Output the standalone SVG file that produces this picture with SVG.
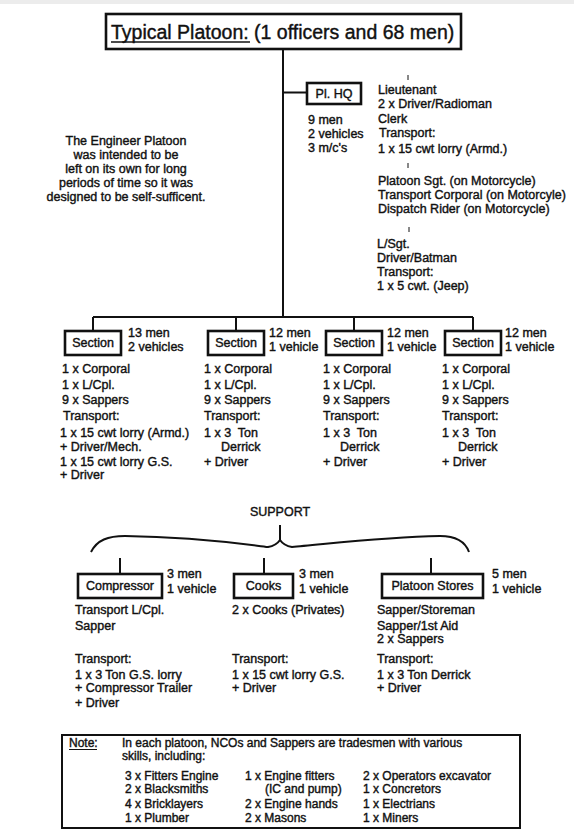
<svg xmlns="http://www.w3.org/2000/svg" width="574" height="836" viewBox="0 0 574 836">
<style>
.t{font-family:"Liberation Sans",Arial,sans-serif;font-size:12.5px;fill:#111;stroke:#111;stroke-width:0.4}
.n{font-size:12px}
.c{text-anchor:middle}
.box{fill:#fff;stroke:#111;stroke-width:2.6}
.ln{stroke:#111;stroke-width:2;fill:none}
.tick{stroke:#111;stroke-width:1;fill:none}
</style>
<rect x="0" y="0" width="574" height="836" fill="#fff"/>
<rect x="0" y="0" width="574" height="4" fill="#ececec"/>
<g id="connectors">
<path class="ln" d="M283,49 V317 M283,92.5 H307 M93,317 H473 M93,317 V331 M236,317 V331 M354,317 V331 M473,317 V331"/>
<path class="ln" d="M280,525 V540 M120,558 V574 M264,558 V574 M431,558 V574"/>
<path class="ln" stroke-width="1.8" d="M91,552 C97,540 108,536 125,536 C200,537 250,545 268,547 C274,546 278,543 280,540 C282,543 286,546 292,547 C320,545 380,537 440,536 C455,536 465,541 469,552"/>
<path class="tick" d="M408,75 V80 M408,163 V168 M409,227 V232"/>
</g>
<g id="title">
<rect class="box" x="106" y="14" width="355" height="35"/>
<text class="t" x="111" y="39" style="font-size:19.5px">Typical Platoon: (1 officers and 68 men)</text>
<line x1="111" y1="42" x2="250" y2="42" stroke="#111" stroke-width="1.3"/>
</g>
<g id="plhq">
<rect class="box" x="307" y="83" width="54" height="21"/>
<text class="t c" x="334" y="98">Pl. HQ</text>
<text class="t" x="308" y="124">9 men</text>
<text class="t" x="308" y="138">2 vehicles</text>
<text class="t" x="308" y="152">3 m/c's</text>
<text class="t" x="378" y="94">Lieutenant</text>
<text class="t" x="378" y="108">2 x Driver/Radioman</text>
<text class="t" x="378" y="123">Clerk</text>
<text class="t" x="379" y="137">Transport:</text>
<text class="t" x="378" y="153">1 x 15 cwt lorry (Armd.)</text>
<text class="t" x="378" y="185">Platoon Sgt. (on Motorcycle)</text>
<text class="t" x="378" y="199">Transport Corporal (on Motorcyle)</text>
<text class="t" x="378" y="213">Dispatch Rider (on Motorcycle)</text>
<text class="t" x="377" y="248">L/Sgt.</text>
<text class="t" x="377" y="262">Driver/Batman</text>
<text class="t" x="377" y="276">Transport:</text>
<text class="t" x="377" y="290">1 x 5 cwt. (Jeep)</text>
</g>
<g id="intro">
<text class="t c" x="126" y="145">The Engineer Platoon</text>
<text class="t c" x="126" y="159">was intended to be</text>
<text class="t c" x="126" y="173">left on its own for long</text>
<text class="t c" x="126" y="187">periods of time so it was</text>
<text class="t c" x="126" y="201">designed to be self-sufficent.</text>
</g>
<g id="section1">
<rect class="box" x="65" y="331" width="56" height="24"/>
<text class="t c" x="93" y="347">Section</text>
<text class="t" x="128" y="337">13 men</text>
<text class="t" x="128" y="351">2 vehicles</text>
<text class="t" x="62" y="373">1 x Corporal</text>
<text class="t" x="62" y="389">1 x L/Cpl.</text>
<text class="t" x="62" y="404">9 x Sappers</text>
<text class="t" x="63" y="420">Transport:</text>
<text class="t" x="60" y="437">1 x 15 cwt lorry (Armd.)</text>
<text class="t" x="60" y="451">+ Driver/Mech.</text>
<text class="t" x="60" y="466">1 x 15 cwt lorry G.S.</text>
<text class="t" x="60" y="479">+ Driver</text>
</g>
<g id="section2">
<rect class="box" x="208" y="331" width="56" height="24"/>
<text class="t c" x="236" y="347">Section</text>
<text class="t" x="269" y="337">12 men</text>
<text class="t" x="269" y="351">1 vehicle</text>
<text class="t" x="204" y="373">1 x Corporal</text>
<text class="t" x="204" y="389">1 x L/Cpl.</text>
<text class="t" x="204" y="404">9 x Sappers</text>
<text class="t" x="204" y="420">Transport:</text>
<text class="t" x="204" y="437" xml:space="preserve">1 x 3  Ton</text>
<text class="t" x="221" y="451">Derrick</text>
<text class="t" x="204" y="466">+ Driver</text>
</g>
<g id="section3">
<rect class="box" x="326" y="331" width="56" height="24"/>
<text class="t c" x="354" y="347">Section</text>
<text class="t" x="387" y="337">12 men</text>
<text class="t" x="387" y="351">1 vehicle</text>
<text class="t" x="323" y="373">1 x Corporal</text>
<text class="t" x="323" y="389">1 x L/Cpl.</text>
<text class="t" x="323" y="404">9 x Sappers</text>
<text class="t" x="323" y="420">Transport:</text>
<text class="t" x="323" y="437" xml:space="preserve">1 x 3  Ton</text>
<text class="t" x="340" y="451">Derrick</text>
<text class="t" x="323" y="466">+ Driver</text>
</g>
<g id="section4">
<rect class="box" x="445" y="331" width="56" height="24"/>
<text class="t c" x="473" y="347">Section</text>
<text class="t" x="505" y="337">12 men</text>
<text class="t" x="505" y="351">1 vehicle</text>
<text class="t" x="442" y="373">1 x Corporal</text>
<text class="t" x="442" y="389">1 x L/Cpl.</text>
<text class="t" x="442" y="404">9 x Sappers</text>
<text class="t" x="442" y="420">Transport:</text>
<text class="t" x="442" y="437" xml:space="preserve">1 x 3  Ton</text>
<text class="t" x="458" y="451">Derrick</text>
<text class="t" x="442" y="466">+ Driver</text>
</g>
<g id="support">
<text class="t c" x="280" y="516">SUPPORT</text>
</g>
<g id="compressor">
<rect class="box" x="78" y="574" width="84" height="24"/>
<text class="t c" x="120" y="590">Compressor</text>
<text class="t" x="167" y="578">3 men</text>
<text class="t" x="167" y="593">1 vehicle</text>
<text class="t" x="75" y="614">Transport L/Cpl.</text>
<text class="t" x="75" y="630">Sapper</text>
<text class="t" x="75" y="663">Transport:</text>
<text class="t" x="75" y="679">1 x 3 Ton G.S. lorry</text>
<text class="t" x="75" y="692">+ Compressor Trailer</text>
<text class="t" x="75" y="707">+ Driver</text>
</g>
<g id="cooks">
<rect class="box" x="234" y="574" width="59" height="24"/>
<text class="t c" x="263.5" y="590">Cooks</text>
<text class="t" x="299" y="578">3 men</text>
<text class="t" x="299" y="593">1 vehicle</text>
<text class="t" x="232" y="614">2 x Cooks (Privates)</text>
<text class="t" x="232" y="663">Transport:</text>
<text class="t" x="232" y="679">1 x 15 cwt lorry G.S.</text>
<text class="t" x="232" y="692">+ Driver</text>
</g>
<g id="stores">
<rect class="box" x="382" y="574" width="101" height="24"/>
<text class="t c" x="432.5" y="590">Platoon Stores</text>
<text class="t" x="492" y="578">5 men</text>
<text class="t" x="492" y="593">1 vehicle</text>
<text class="t" x="377" y="614">Sapper/Storeman</text>
<text class="t" x="377" y="630">Sapper/1st Aid</text>
<text class="t" x="377" y="643">2 x Sappers</text>
<text class="t" x="377" y="663">Transport:</text>
<text class="t" x="377" y="679">1 x 3 Ton Derrick</text>
<text class="t" x="377" y="692">+ Driver</text>
</g>
<g id="note">
<rect x="62" y="735" width="458" height="93" fill="#fff" stroke="#111" stroke-width="2"/>
<text class="t n" x="69" y="747">Note:</text>
<line x1="69" y1="749.5" x2="97" y2="749.5" stroke="#111" stroke-width="1"/>
<text class="t n" x="122" y="747">In each platoon, NCOs and Sappers are tradesmen with various</text>
<text class="t n" x="122" y="760">skills, including:</text>
<text class="t n" x="125" y="780">3 x Fitters Engine</text>
<text class="t n" x="125" y="793">2 x Blacksmiths</text>
<text class="t n" x="125" y="808">4 x Bricklayers</text>
<text class="t n" x="125" y="822">1 x Plumber</text>
<text class="t n" x="245" y="780">1 x Engine fitters</text>
<text class="t n" x="265" y="793">(IC and pump)</text>
<text class="t n" x="245" y="808">2 x Engine hands</text>
<text class="t n" x="245" y="822">2 x Masons</text>
<text class="t n" x="363" y="780">2 x Operators excavator</text>
<text class="t n" x="363" y="793">1 x Concretors</text>
<text class="t n" x="363" y="808">1 x Electrians</text>
<text class="t n" x="363" y="822">1 x Miners</text>
</g>
</svg>
